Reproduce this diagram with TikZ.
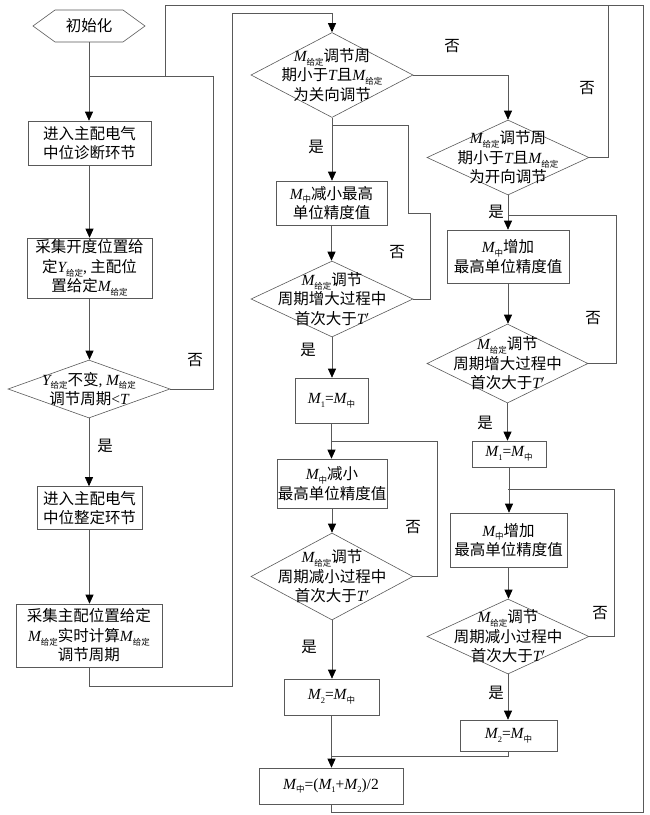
\documentclass[tikz,border=0pt]{standalone}
\usepackage{fontspec}
\setmainfont{Noto Sans CJK SC}
\newfontfamily\lat{Liberation Serif}
\usetikzlibrary{shapes.geometric,shapes.symbols,arrows.meta}
\newcommand{\lowtxt}[1]{\raisebox{-0.45ex}{\fontsize{8.5}{9}\selectfont #1}}
\newcommand{\varsub}[2]{{\lat\itshape #1}\lowtxt{#2}}
\newcommand{\Tv}{{\lat\itshape T}}
\begin{document}
\begin{tikzpicture}[x=1pt,y=-1pt,font=\fontsize{15.5}{19.5}\selectfont]
\tikzstyle{every node}+=[inner sep=0pt]
\tikzstyle{box}=[draw=black!65, line width=0.6pt, align=center]
\tikzstyle{dia}=[draw=black!65, line width=0.6pt, diamond]
\tikzstyle{line}=[draw=black!65, line width=0.6pt]
\tikzstyle{arr}=[line, -{Triangle[length=9pt,width=8pt,color=black]}]
\useasboundingbox (0,0) rectangle (650,815);
% left column
\node [draw=black!65, line width=0.6pt, signal, signal to=west and east, signal pointer angle=72,
  minimum width=112, minimum height=32] (init) at (89,26) {初始化};
\node [box, minimum width=123, minimum height=44] (diag) at (89.5,143) {进入主配电气\\中位诊断环节};
\node [box, minimum width=125, minimum height=60] (coll) at (89.5,268)
  {采集开度位置给\\定\varsub{Y}{给定}{\lat ,} 主配位\\置给定\varsub{M}{给定}};
\node [dia, minimum width=162, minimum height=58,
  label={[align=center]center:{\varsub{Y}{给定}不变{\lat ,} \varsub{M}{给定}\\调节周期{\lat <}\Tv}}] (chk) at (89,389) {};
\node [box, minimum width=105, minimum height=43] (tune) at (89.5,508) {进入主配电气\\中位整定环节};
\node [box, minimum width=146, minimum height=63] (calc) at (89,635.5)
  {采集主配位置给定\\\varsub{M}{给定}实时计算\varsub{M}{给定}\\调节周期};
% middle column
\node [dia, minimum width=162, minimum height=85,
  label={[align=center]center:{\varsub{M}{给定}调节周\\期小于\Tv 且\varsub{M}{给定}\\为关向调节}}] (ca) at (332,75) {};
\node [box, minimum width=111, minimum height=44] (dec1) at (331.5,203) {\varsub{M}{中}减小最高\\单位精度值};
\node [dia, minimum width=162, minimum height=76,
  label={[align=center]center:{\varsub{M}{给定}调节\\周期增大过程中\\首次大于\Tv$'$}}] (cb) at (332,299) {};
\node [box, minimum width=73, minimum height=45] (m1a) at (331.5,400.5) {\varsub{M}{\lat 1}{\lat =}\varsub{M}{中}};
\node [box, minimum width=110, minimum height=49] (dec2) at (332,483.5) {\varsub{M}{中}减小\\最高单位精度值};
\node [dia, minimum width=162, minimum height=87,
  label={[align=center]center:{\varsub{M}{给定}调节\\周期减小过程中\\首次大于\Tv$'$}}] (cc) at (332,576.5) {};
\node [box, minimum width=95, minimum height=36] (m2a) at (331.5,697) {\varsub{M}{\lat 2}{\lat =}\varsub{M}{中}};
\node [box, minimum width=144, minimum height=36] (avg) at (331,786)
  {\varsub{M}{中}{\lat =(}\varsub{M}{\lat 1}{\lat +}\varsub{M}{\lat 2}{\lat )/2}};
% right column
\node [dia, minimum width=162, minimum height=75,
  label={[align=center]center:{\varsub{M}{给定}调节周\\期小于\Tv 且\varsub{M}{给定}\\为开向调节}}] (oa) at (508,157.5) {};
\node [box, minimum width=122, minimum height=53] (inc1) at (508,256.5) {\varsub{M}{中}增加\\最高单位精度值};
\node [dia, minimum width=161, minimum height=79,
  label={[align=center]center:{\varsub{M}{给定}调节\\周期增大过程中\\首次大于\Tv$'$}}] (ob) at (507.5,363.5) {};
\node [box, minimum width=74, minimum height=26] (m1b) at (509,454) {\varsub{M}{\lat 1}{\lat =}\varsub{M}{中}};
\node [box, minimum width=117, minimum height=54] (inc2) at (508.5,540) {\varsub{M}{中}增加\\最高单位精度值};
\node [dia, minimum width=162, minimum height=75,
  label={[align=center]center:{\varsub{M}{给定}调节\\周期减小过程中\\首次大于\Tv$'$}}] (oc) at (508,636.5) {};
\node [box, minimum width=97, minimum height=31] (m2b) at (508.5,735.5) {\varsub{M}{\lat 2}{\lat =}\varsub{M}{中}};
% junctions and corners
\coordinate (j0) at (89,76);
\coordinate (ret1) at (213,76);
\coordinate (tl) at (165,5);
\coordinate (br) at (643,812);
\coordinate (lb) at (232,686);
\coordinate (lt) at (232,13);
\coordinate (tr) at (608,5);
\coordinate (ja) at (332,125);
\coordinate (ka) at (430,213);
\coordinate (kb) at (408,125);
\coordinate (jb) at (332,441);
\coordinate (jc) at (331.5,756);
\coordinate (jd) at (508,215);
\coordinate (je) at (508,489);
% left flow
\draw [arr] (init.south) -- (init.south |- diag.north);
\draw [arr] (diag.south) -- (diag.south |- coll.north);
\draw [arr] (coll.south) -- (coll.south |- chk.north);
\draw [arr] (chk.south) -- (chk.south |- tune.north);
\draw [arr] (tune.south) -- (tune.south |- calc.north);
\draw [line] (chk.east) -| (ret1) -- (j0);
\draw [line] (avg.south) |- (br) |- (tl) -- (tl |- j0);
\draw [arr] (calc.south) |- (lb) -- (lt) -| (ca.north);
% middle flow
\draw [arr] (ca.east) -| (oa.north);
\draw [arr] (ca.south) -- (ca.south |- dec1.north);
\draw [arr] (dec1.south) -- (dec1.south |- cb.north);
\draw [line] (cb.east) -| (ka) -| (kb) -- (ja);
\draw [arr] (cb.south) -- (cb.south |- m1a.north);
\draw [arr] (m1a.south) -- (m1a.south |- dec2.north);
\draw [line] (cc.east) -- ++(24,0) |- (jb);
\draw [arr] (dec2.south) -- (dec2.south |- cc.north);
\draw [arr] (cc.south) -- (cc.south |- m2a.north);
\draw [arr] (m2a.south) -- (m2a.south |- avg.north);
\draw [line] (m2b.south) |- (jc);
% right flow
\draw [line] (oa.east) -| (tr);
\draw [arr] (oa.south) -- (oa.south |- inc1.north);
\draw [line] (ob.east) -- ++(28,0) |- (jd);
\draw [arr] (inc1.south) -- (inc1.south |- ob.north);
\draw [arr] (ob.south) -- (ob.south |- m1b.north);
\draw [arr] (m1b.south) -- (m1b.south |- inc2.north);
\draw [line] (oc.east) -- ++(25,0) |- (je);
\draw [arr] (inc2.south) -- (inc2.south |- oc.north);
\draw [arr] (oc.south) -- (oc.south |- m2b.north);
% yes / no labels
\node (n1) at (195,360) {否};
\node (y1) at (105,446) {是};
\node (n2) at (452,46) {否};
\node (y2) at (316,147) {是};
\node (n3) at (397,252) {否};
\node (y3) at (308,350) {是};
\node (n4) at (413,527) {否};
\node (y4) at (309,647) {是};
\node (n5) at (587,88) {否};
\node (y5) at (496,212) {是};
\node (n6) at (593,318) {否};
\node (y6) at (485,423) {是};
\node (n7) at (600,613) {否};
\node (y7) at (496,693) {是};
\end{tikzpicture}
\end{document}
